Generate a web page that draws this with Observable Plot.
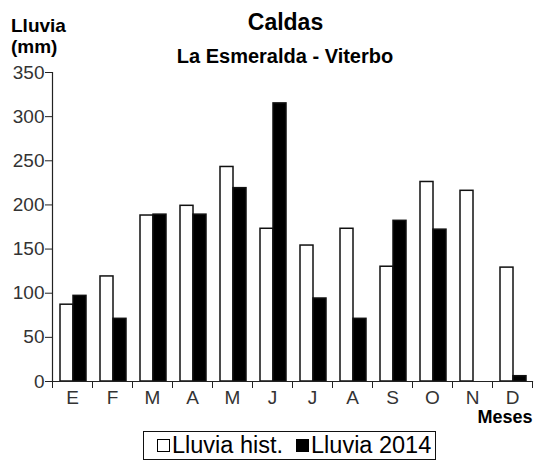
<!DOCTYPE html>
<html><head><meta charset="utf-8">
<script src="https://cdn.jsdelivr.net/npm/d3@7"></script>
<script src="https://cdn.jsdelivr.net/npm/@observablehq/plot@0.6"></script>
<style>
body{margin:0;background:#fff;font-family:"Liberation Sans",Arial,sans-serif;color:#000;}
#wrap{position:relative;width:534px;height:462px;overflow:hidden;}
#head{position:relative;height:64px;z-index:2;}
#ylab{position:absolute;left:11px;top:14.6px;font-size:19px;font-weight:bold;line-height:21px;}
#title{position:absolute;left:285.5px;top:10.5px;transform:translateX(-50%);font-size:23px;font-weight:bold;line-height:23px;white-space:nowrap;}
#subtitle{position:absolute;left:285px;top:46px;transform:translateX(-50%);font-size:20px;font-weight:bold;line-height:20px;white-space:nowrap;}
#chart{position:relative;height:366px;}
#legend{position:absolute;left:143px;top:431px;width:291px;height:27px;border:1.5px solid #111;display:flex;align-items:center;font-size:23.5px;line-height:23px;white-space:nowrap;}
.sw{display:inline-block;width:11px;height:11px;border:1.5px solid #000;margin-right:2px;}
.item{display:flex;align-items:center;}
</style></head><body>
<div id="wrap">
<div id="head">
  <div id="ylab">Lluvia<br>(mm)</div>
  <div id="title">Caldas</div>
  <div id="subtitle">La Esmeralda - Viterbo</div>
</div>
<div id="chart"></div>
<div id="legend"></div>
</div>
<script>
const months = ["E","F","M","A","M","J","J","A","S","O","N","D"];
const histValues = [87, 119, 188, 199, 243, 173, 154, 173, 130, 226, 216, 129];
const values2014 = [97, 71, 189, 189, 219, 315, 94, 71, 182, 172, null, 6];
const yTicks = [0, 50, 100, 150, 200, 250, 300, 350];
const seriesNames = ["Lluvia hist.", "Lluvia 2014"];
const seriesFills = ["white", "black"];

const idx = d3.range(months.length);
const rows = idx.map(i => ({i, hist: histValues[i], v2014: values2014[i]}));

const plot = Plot.plot({
  width: 534, height: 366,
  marginTop: 8, marginBottom: 49, marginLeft: 52, marginRight: 2,
  style: {background: "transparent", fontFamily: "'Liberation Sans', Arial, sans-serif", color: "#222", overflow: "visible"},
  x: {type: "band", domain: idx, padding: 0, axis: null},
  y: {domain: [0, 350], axis: null},
  marks: [
    Plot.barY(rows, {x: "i", y: "hist", fill: seriesFills[0], stroke: "#111", strokeWidth: 1.5, insetLeft: 8, insetRight: 19}),
    Plot.barY(rows.filter(d => d.v2014 != null), {x: "i", y: "v2014", fill: seriesFills[1], stroke: "#111", strokeWidth: 1.5, insetLeft: 21, insetRight: 6}),
    Plot.axisY(yTicks, {tickSize: 7, tickPadding: 1, fontSize: 19, stroke: "#222", fill: "#333", label: null}),
    Plot.axisX(idx, {tickSize: 0, tickPadding: 9, fontSize: 19, fill: "#333", tickFormat: i => months[i], label: null}),
    Plot.axisX(idx, {tickSize: 7, dx: -20, tickFormat: () => "", stroke: "#222", label: null}),
    Plot.axisX([idx[idx.length - 1]], {tickSize: 7, dx: 20, tickFormat: () => "", stroke: "#222", label: null}),
    Plot.frame({anchor: "left", stroke: "#222", strokeWidth: 1.2}),
    Plot.frame({anchor: "bottom", stroke: "#222", strokeWidth: 1.2}),
    Plot.text(["Meses"], {frameAnchor: "bottom-right", text: d => d, textAnchor: "end", lineAnchor: "middle", dy: 36, fontSize: 18, fontWeight: "bold", fill: "#000"})
  ]
});
document.getElementById("chart").appendChild(plot);

const legend = document.getElementById("legend");
seriesNames.forEach((name, k) => {
  const item = document.createElement("span");
  item.className = "item";
  item.style.marginLeft = k === 0 ? "13px" : "13px";
  const sw = document.createElement("span");
  sw.className = "sw";
  sw.style.background = seriesFills[k];
  item.appendChild(sw);
  item.appendChild(document.createTextNode(name));
  legend.appendChild(item);
});
</script>
</body></html>
